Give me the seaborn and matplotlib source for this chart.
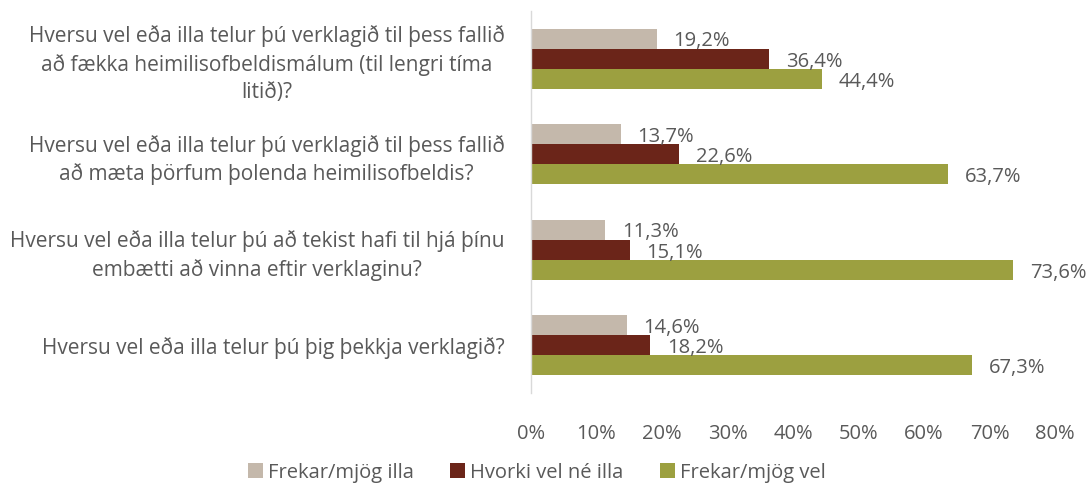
import matplotlib
matplotlib.use("Agg")
import matplotlib.pyplot as plt
import seaborn as sns
import pandas as pd
from matplotlib.patches import Patch

categories = [
    "Hversu vel eða illa telur þú verklagið til þess fallið\nað fækka heimilisofbeldismálum (til lengri tíma\nlitið)?",
    "Hversu vel eða illa telur þú verklagið til þess fallið\nað mæta þörfum þolenda heimilisofbeldis?",
    "Hversu vel eða illa telur þú að tekist hafi til hjá þínu\nembætti að vinna eftir verklaginu?",
    "Hversu vel eða illa telur þú þig þekkja verklagið?",
]
series = ["Frekar/mjög illa", "Hvorki vel né illa", "Frekar/mjög vel"]
illa = [19.2, 13.7, 11.3, 14.6]
hvorki = [36.4, 22.6, 15.1, 18.2]
vel = [44.4, 63.7, 73.6, 67.3]
xticks = [0, 10, 20, 30, 40, 50, 60, 70, 80]
colors = ["#c4b8ab", "#6b2519", "#9ca040"]

rows = []
for s, vals in zip(series, [illa, hvorki, vel]):
    for c, v in zip(categories, vals):
        rows.append({"cat": c, "series": s, "value": v})
df = pd.DataFrame(rows)

sns.set_theme(style="white")
plt.rcParams["font.family"] = ["Open Sans", "DejaVu Sans"]
text_color = "#595959"
fs = 14.5

fig = plt.figure(figsize=(10.87, 4.88), dpi=100)
ax = fig.add_axes([531/1087, 1 - 393/488, 524/1087, 382/488])
sns.barplot(data=df, y="cat", x="value", hue="series", order=categories,
            hue_order=series, palette=colors, orient="h", width=0.63,
            ax=ax, legend=False, saturation=1, linewidth=0)

for cont in ax.containers:
    labels = [f"{v:.1f}%".replace(".", ",") for v in cont.datavalues]
    texts = ax.bar_label(cont, labels=labels, padding=12, fontsize=fs, color=text_color)
    for t in texts:
        x, y = t.xyann
        t.xyann = (x, y - 2)

ax.set_xlim(0, 80)
ax.set_xticks(xticks)
ax.set_xticklabels([f"{t}%" for t in xticks])
ax.set_ylim(3.5, -0.5)
ax.set_xlabel("")
ax.set_ylabel("")
for sp in ["top", "right", "bottom"]:
    ax.spines[sp].set_visible(False)
ax.spines["left"].set_color("#d9d9d9")
ax.spines["left"].set_linewidth(1.0)
ax.tick_params(axis="x", length=0, pad=22, labelsize=fs, labelcolor=text_color)
ax.tick_params(axis="y", length=0, pad=19, labelsize=15, labelcolor=text_color)
for lbl in ax.get_yticklabels():
    lbl.set_multialignment("center")
    lbl.set_ha("right")
    lbl.set_linespacing(1.4)
ax.grid(False)

handles = [Patch(facecolor=c, edgecolor="none") for c in colors]
fig.legend(handles, series, loc="center", bbox_to_anchor=(0.494, 0.031), ncol=3,
           frameon=False, fontsize=fs, handlelength=0.75, handleheight=0.75,
           handletextpad=0.25, columnspacing=1.8, labelcolor=text_color)

fig.savefig("out.png", dpi=100)
